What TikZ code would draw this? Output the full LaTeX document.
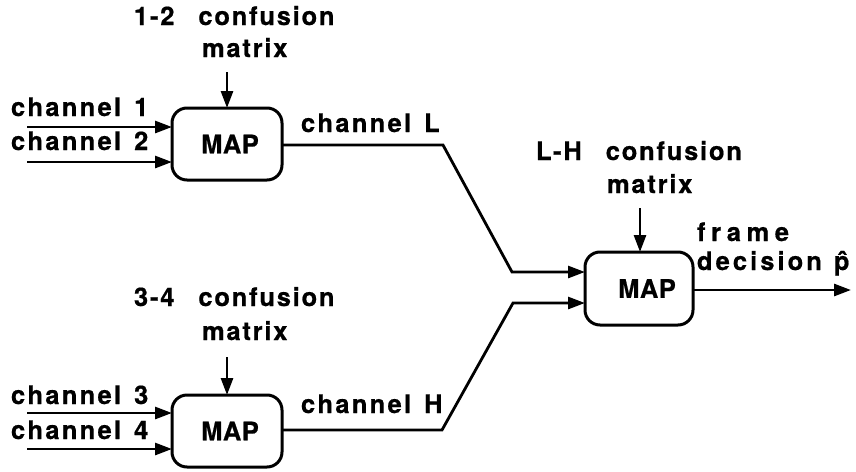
\documentclass[tikz,border=0pt]{standalone}
\usepackage{fontspec}
\setmainfont{TeX Gyre Heros}
\newfontfamily\lblfont[LetterSpace=7,FakeBold=0.6]{TeX Gyre Heros}
\newfontfamily\chanfont[LetterSpace=9,FakeBold=0.6]{TeX Gyre Heros}
\newfontfamily\mapfont[LetterSpace=2,FakeBold=0.6]{TeX Gyre Heros}
\newfontfamily\widefont[LetterSpace=12,FakeBold=0.6]{TeX Gyre Heros}
\newfontfamily\widerfont[LetterSpace=22,FakeBold=0.6]{TeX Gyre Heros}
\usetikzlibrary{arrows.meta}
\begin{document}
\begin{tikzpicture}[x=1pt,y=-1pt,
  every node/.style={inner sep=0pt,outer sep=0pt,font=\lblfont\bfseries\fontsize{25.5}{29}\selectfont},
  mapbox/.style={draw,line width=3pt,rounded corners=15pt,minimum width=110pt,minimum height=72pt,
    font=\mapfont\bfseries\fontsize{25.5}{29}\selectfont},
  lbl/.style={anchor=base west},
  chan/.style={lbl,font=\chanfont\bfseries\fontsize{25.5}{29}\selectfont},
  wire/.style={line width=2.8pt,line join=miter},
  feed/.style={wire,-{Triangle[length=17pt,width=12pt]}}]
\useasboundingbox (0,0) rectangle (856,471);

% the three MAP blocks
\node[mapbox] (m12) at (227,144) {\hspace*{6pt}MAP};
\node[mapbox] (m34) at (227,431) {\hspace*{6pt}MAP};
\node[mapbox,minimum width=108pt,minimum height=73pt] (mlh) at (639,288.5) {\hspace*{16pt}MAP};

% labels of the first block
\node[lbl] (t12a) at (134,25) {1-2\hspace{24pt}confusion};
\node[lbl] (t12b) at (202,57) {matrix};
\node[chan] (c1) at (11,116) {channel\hspace{13pt}1};
\node[chan] (c2) at (11,150) {channel\hspace{13pt}2};
\node[chan] (cL) at (301,132) {channel\hspace{13pt}L};

% labels of the second block
\node[lbl] (t34a) at (134,306) {3-4\hspace{24pt}confusion};
\node[lbl] (t34b) at (202,340) {matrix};
\node[chan] (c3) at (11,404) {channel\hspace{13pt}3};
\node[chan] (c4) at (11,439) {channel\hspace{13pt}4};
\node[chan] (cH) at (301,413) {channel\hspace{13pt}H};

% labels of the combining block
\node[lbl] (tlha) at (536,160) {L-H\hspace{24pt}confusion};
\node[lbl] (tlhb) at (607,193) {matrix};
\node[lbl] (fr) at (697,241) {\widerfont\bfseries frame};
\node[lbl] (dec) at (697,270) {\widefont\bfseries decision\hspace{12pt}\^{p}};

% free ends and bends of the wires
\coordinate (i1) at (27,127);
\coordinate (i2) at (27,162);
\coordinate (i3) at (27,413);
\coordinate (i4) at (27,449);
\coordinate (k12) at (227,72);
\coordinate (k34) at (227,357);
\coordinate (klh) at (640,208);
\coordinate (bL1) at (443,145);
\coordinate (bL2) at (512,272);
\coordinate (bH1) at (442,430);
\coordinate (bH2) at (513,303);
\coordinate (out) at (851,290);

% inputs to the first two blocks
\draw[feed] (i1) -- (i1 -| m12.west);
\draw[feed] (i2) -- (i2 -| m12.west);
\draw[feed] (i3) -- (i3 -| m34.west);
\draw[feed] (i4) -- (i4 -| m34.west);
\draw[feed] (k12) -- (k12 |- m12.north);
\draw[feed] (k34) -- (k34 |- m34.north);

% channel L and channel H into the combining block
\draw[feed] (m12.east |- bL1) -- (bL1) -- (bL2) -- (bL2 -| mlh.west);
\draw[feed] (m34.east |- bH1) -- (bH1) -- (bH2) -- (bH2 -| mlh.west);
\draw[feed] (klh) -- (klh |- mlh.north);

% frame decision
\draw[feed] (mlh.east |- out) -- (out);
\end{tikzpicture}
\end{document}
